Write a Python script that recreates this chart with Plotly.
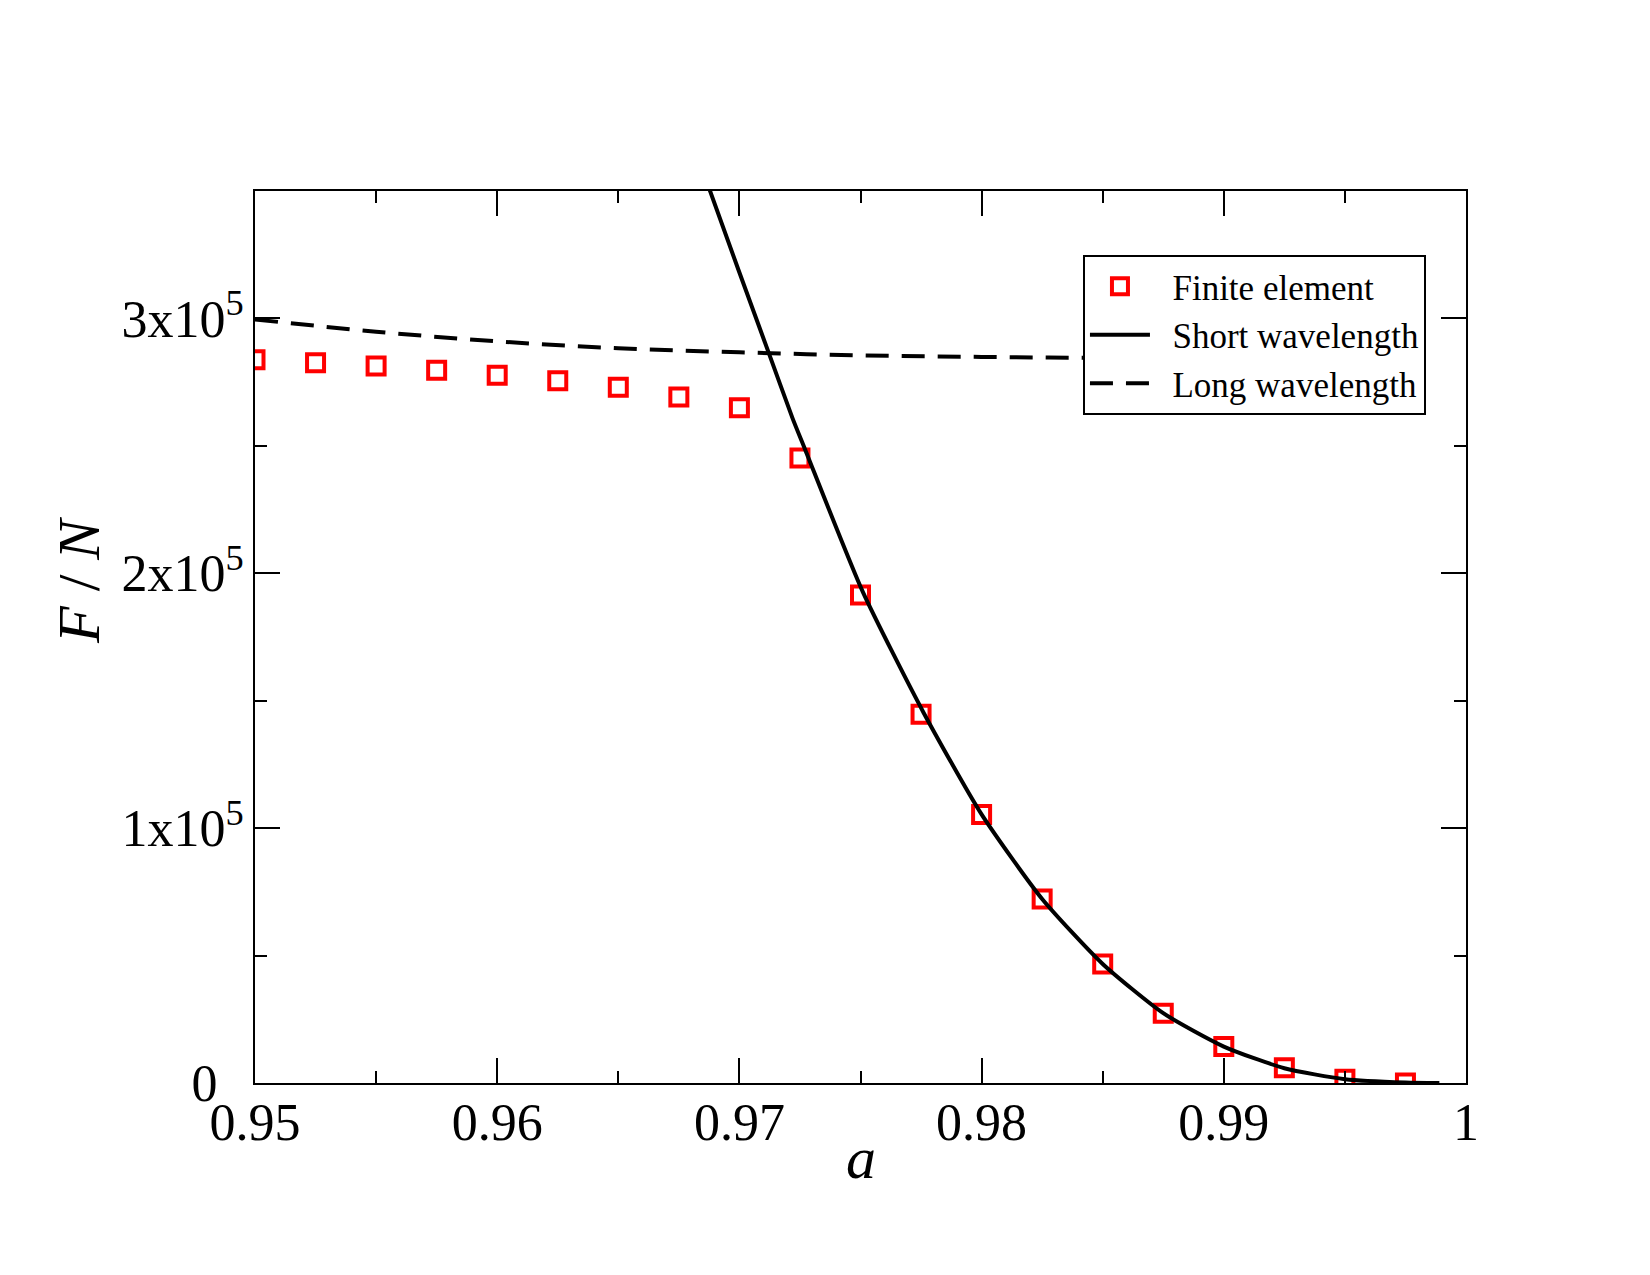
import plotly.graph_objects as go

# ---- data ----
fe_a = [0.95, 0.9525, 0.955, 0.9575, 0.96, 0.9625, 0.965, 0.9675, 0.97, 0.9725,
        0.975, 0.9775, 0.98, 0.9825, 0.985, 0.9875, 0.99, 0.9925, 0.995, 0.9975]
fe_F = [283800, 282600, 281300, 279700, 277700, 275500, 273000, 269200, 265000, 245200,
        191500, 144700, 105400, 72200, 46700, 27400, 14300, 6000, 1500, 0]

sw_a = [0.9686, 0.9700, 0.9712, 0.9722, 0.9727, 0.9751, 0.9776, 0.9800, 0.9825,
        0.9850, 0.9875, 0.9900, 0.9925, 0.9950, 0.9975, 0.9989]
sw_F = [355000, 318000, 286800, 260700, 248900, 192600, 145400, 105400, 72200,
        46700, 27400, 14300, 5800, 1500, 200, 0]

lw_a = [0.95, 0.955, 0.96, 0.965, 0.97, 0.975, 0.98, 0.985, 0.99, 0.995, 0.997]
lw_F = [299600, 294800, 291000, 288300, 286700, 285500, 284900, 284500, 284300, 284200, 284150]

series_names = ["Finite element", "Short wavelength", "Long wavelength"]

x_tickvals = [0.95, 0.96, 0.97, 0.98, 0.99, 1.0]
x_ticktext = ["0.95", "0.96", "0.97", "0.98", "0.99", "1"]
y_tickvals = [0, 100000, 200000, 300000]
y_ticktext = ["0\u00a0\u00a0", "1x10<sup>5</sup>", "2x10<sup>5</sup>", "3x10<sup>5</sup>"]

FONT = "Liberation Serif"
PAD = "\u00a0\u00a0"  # gap between legend symbol and legend text

fig = go.Figure()
fig.add_trace(go.Scatter(
    x=fe_a, y=fe_F, mode="markers", name=PAD + series_names[0],
    marker=dict(symbol="square-open", size=17, color="#ff0000",
                line=dict(width=4, color="#ff0000")),
))
fig.add_trace(go.Scatter(
    x=sw_a, y=sw_F, mode="lines", name=PAD + series_names[1],
    line=dict(color="black", width=4, shape="spline", smoothing=0.6),
))
fig.add_trace(go.Scatter(
    x=lw_a, y=lw_F, mode="lines", name=PAD + series_names[2],
    line=dict(color="black", width=4, dash="23px,13px", shape="spline"),
))

axis_common = dict(
    showline=True, linecolor="black", linewidth=2, mirror="allticks",
    ticks="inside", ticklen=25, tickwidth=2, tickcolor="black",
    showgrid=False, zeroline=False,
    tickfont=dict(family=FONT, size=52, color="black"),
)

fig.update_xaxes(
    range=[0.95, 1.0], tickmode="array", tickvals=x_tickvals, ticktext=x_ticktext,
    minor=dict(dtick=0.005, ticklen=12, tickwidth=2, tickcolor="black", ticks="inside"),
    ticklabelstandoff=-7,
    **axis_common,
)
fig.update_yaxes(
    range=[0, 350000], tickmode="array", tickvals=y_tickvals, ticktext=y_ticktext,
    minor=dict(dtick=50000, ticklen=12, tickwidth=2, tickcolor="black", ticks="inside"),
    ticklabelstandoff=-1,
    **axis_common,
)

fig.update_layout(
    width=1650, height=1275, autosize=False,
    margin=dict(l=255, r=184, t=191, b=192),
    paper_bgcolor="white", plot_bgcolor="white",
    font=dict(family=FONT, color="black"),
    showlegend=True,
    legend=dict(
        x=0.6837, y=0.9283, xanchor="left", yanchor="top",
        bgcolor="white", bordercolor="black", borderwidth=2,
        font=dict(family=FONT, size=35, color="black"),
        itemwidth=60,
    ),
    annotations=[
        dict(text="<i>a</i>", xref="paper", yref="paper", x=0.5004, y=-0.0841,
             showarrow=False, font=dict(family=FONT, size=60, color="black"),
             xanchor="center", yanchor="middle"),
        dict(text="<i>F</i> / <i>N</i>", xref="paper", yref="paper", x=-0.1453, y=0.5628,
             showarrow=False, textangle=-90,
             font=dict(family=FONT, size=60, color="black"),
             xanchor="center", yanchor="middle"),
    ],
)

fig.write_html("out.html")
